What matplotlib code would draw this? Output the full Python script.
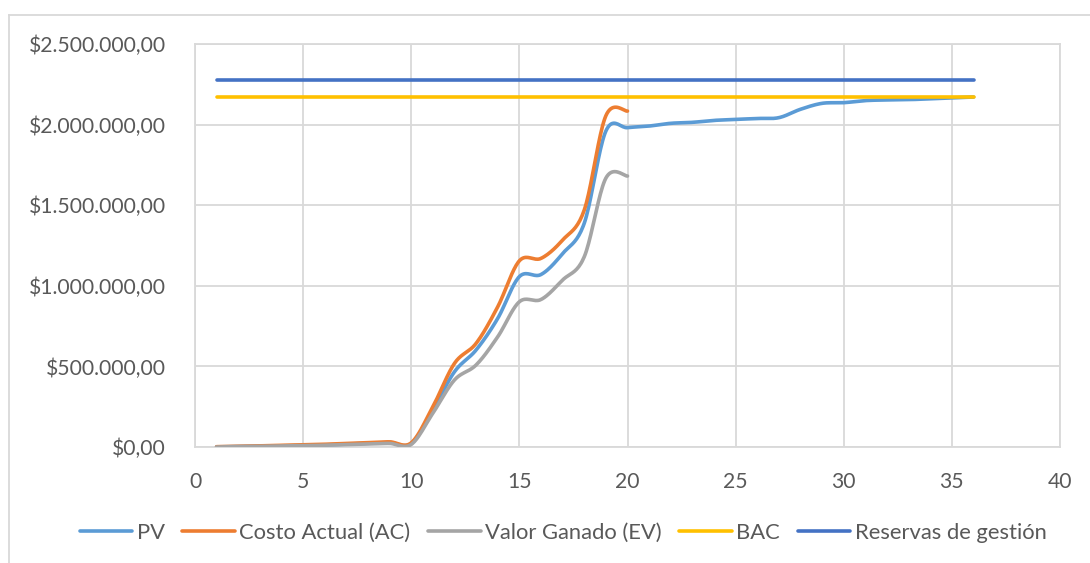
import numpy as np
import matplotlib
matplotlib.use('Agg')
from matplotlib import pyplot as plt
from matplotlib.ticker import FuncFormatter, MultipleLocator
from matplotlib.lines import Line2D

# periodos (semanas) y valores
periodos_pv = list(range(1, 37))
pv = [1000, 3000, 5000, 7000, 9000, 13000, 18000, 23000, 28000, 22000,
      230000, 467000, 602000, 798000, 1057000, 1070000, 1200000, 1388000,
      1960000, 1981000, 1991000, 2008000, 2014000, 2026000, 2032000, 2038000,
      2043000, 2095000, 2132000, 2136000, 2149000, 2153000, 2155000, 2160000,
      2166000, 2171000]

periodos_real = list(range(1, 21))
ac = [2000, 4000, 7000, 10000, 13000, 17000, 22000, 27000, 32000, 26000,
      250000, 519000, 643000, 870000, 1155000, 1170000, 1284000, 1470000,
      2055000, 2084000]
ev = [0, 2000, 4000, 6000, 8000, 11000, 15000, 19000, 22000, 16000,
      210000, 416000, 509000, 684000, 901000, 915000, 1036000, 1180000,
      1668000, 1681000]

bac = [2171000] * 36
reservas = [2277000] * 36

etiquetas = ['PV', 'Costo Actual (AC)', 'Valor Ganado (EV)', 'BAC', 'Reservas de gestión']
colores = ['#5B9BD5', '#ED7D31', '#A5A5A5', '#FFC000', '#4472C4']


def suavizar(x, y, n=20):
    # linea suavizada estilo Excel (bezier con tangentes catmull-rom)
    x = np.asarray(x, float)
    y = np.asarray(y, float)
    xs, ys = [], []
    for i in range(len(x) - 1):
        p0 = np.array([x[max(i - 1, 0)], y[max(i - 1, 0)]])
        p1 = np.array([x[i], y[i]])
        p2 = np.array([x[i + 1], y[i + 1]])
        p3 = np.array([x[min(i + 2, len(x) - 1)], y[min(i + 2, len(x) - 1)]])
        c1 = p1 + (p2 - p0) / 6.0
        c2 = p2 - (p3 - p1) / 6.0
        t = np.linspace(0, 1, n, endpoint=(i == len(x) - 2))[:, None]
        pts = ((1 - t) ** 3) * p1 + 3 * ((1 - t) ** 2) * t * c1 + 3 * (1 - t) * t ** 2 * c2 + t ** 3 * p2
        xs.extend(pts[:, 0])
        ys.extend(pts[:, 1])
    return xs, ys


def moneda(v, pos):
    s = '{:,.2f}'.format(v)
    s = s.replace(',', 'X').replace('.', ',').replace('X', '.')
    return '$' + s


plt.rcParams['font.family'] = ['Lato', 'DejaVu Sans']
gris_txt = '#595959'
gris_lin = '#D9D9D9'

fig = plt.figure(figsize=(10.9, 5.63), dpi=100)
ax = fig.add_axes([195 / 1090, (563 - 447) / 563, 865 / 1090, 403 / 563])

series = [(periodos_pv, pv), (periodos_real, ac), (periodos_real, ev),
          (periodos_pv, bac), (periodos_pv, reservas)]
for (xx, yy), lab, col in zip(series, etiquetas, colores):
    sx, sy = suavizar(xx, yy)
    ax.plot(sx, sy, color=col, lw=2.6, label=lab, solid_capstyle='round', zorder=3)

ax.set_xlim(0, 40)
ax.set_ylim(0, 2500000)
ax.xaxis.set_major_locator(MultipleLocator(5))
ax.yaxis.set_major_locator(MultipleLocator(500000))
ax.yaxis.set_major_formatter(FuncFormatter(moneda))
ax.grid(True, color=gris_lin, lw=1.3)
ax.set_axisbelow(True)
for sp in ax.spines.values():
    sp.set_color(gris_lin)
    sp.set_linewidth(1.3)
ax.tick_params(axis='both', length=0, colors=gris_txt, labelsize=15.2)
ax.tick_params(axis='y', pad=21)
ax.tick_params(axis='x', pad=18)

ley = ax.legend(loc='center', bbox_to_anchor=(563 / 1090, 1 - 533 / 563),
                bbox_transform=fig.transFigure, ncol=5, frameon=False,
                fontsize=15.8, handlelength=2.4, handletextpad=0.2,
                columnspacing=0.8, borderaxespad=0)
for t in ley.get_texts():
    t.set_color(gris_txt)

# borde exterior del area del grafico
fig.add_artist(Line2D([9 / 1090, 1.0], [1 - 15 / 563, 1 - 15 / 563], color=gris_lin, lw=1.3))
fig.add_artist(Line2D([9 / 1090, 9 / 1090], [0, 1 - 15 / 563], color=gris_lin, lw=1.3))

plt.savefig('out.png', dpi=100)
plt.close()
